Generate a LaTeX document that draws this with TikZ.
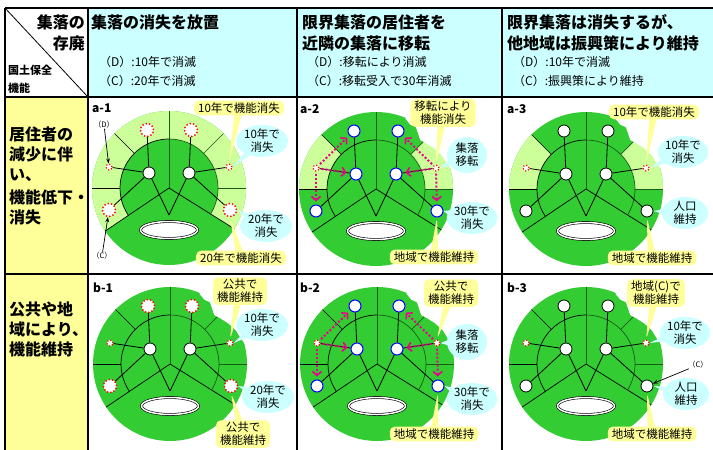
\documentclass[tikz,border=0pt]{standalone}
\usepackage{fontspec}
\setmainfont{Noto Sans CJK JP}
\usetikzlibrary{shapes.geometric,shapes.callouts,arrows.meta}

\definecolor{leaf}{HTML}{33CC33}
\definecolor{pale}{HTML}{CCFF99}
\definecolor{memoyellow}{HTML}{FFFF99}
\definecolor{sky}{HTML}{CCFFFF}

\tikzset{
  grid/.style={line width=1.2pt},
  seam/.style={line width=0.7pt},
  seamr/.style={line width=0.7pt, draw=black!55!leaf},
  hub/.style={circle, draw, line width=0.8pt, fill=white, minimum size=12pt, inner sep=0pt},
  lost/.style={circle, draw=red, dotted, line width=1.4pt, fill=white, minimum size=13pt, inner sep=0pt},
  lostsm/.style={lost, line width=1.2pt, minimum size=6pt},
  moved/.style={circle, draw=blue, line width=1pt, fill=white, minimum size=12pt, inner sep=0pt},
  link/.style={line width=0.8pt},
  relocate/.style={draw=magenta, line width=2pt, dotted, -{Straight Barb[length=4pt, width=9pt, line width=1.6pt]}, shorten >=3pt, shorten <=2pt},
  pointer/.style={line width=0.7pt, -{Stealth[length=5pt]}},
  memo/.style={rectangle callout, fill=memoyellow, rounded corners=5pt, inner xsep=4pt, inner ysep=2pt, align=center, font=\fontsize{11.5}{13}\selectfont},
  bubble/.style={ellipse callout, fill=sky, inner xsep=0pt, inner ysep=-5pt, minimum width=52pt, minimum height=32pt, align=center, font=\fontsize{11.5}{13}\selectfont},
  tag/.style={anchor=west, inner sep=0pt, font=\bfseries\fontsize{12}{14}\selectfont},
  head/.style={anchor=west, inner sep=0pt, font=\bfseries\fontsize{16}{18}\selectfont},
  sub/.style={anchor=west, inner sep=0pt, font=\fontsize{12}{14}\selectfont},
  rowhead/.style={anchor=north west, inner sep=0pt, align=left, font=\bfseries\fontsize{16}{20}\selectfont},
  small/.style={inner sep=0pt, font=\fontsize{7.5}{9}\selectfont},
}

% #1 prefix, #2 top sites, #3 side sites, #4 lower sites, #5 hubs
\newcommand{\village}[5]{%
  \draw[seam] (0,0) -- (214:77);
  \draw[seam] (0,0) -- (-32:77);
  \draw[seam] (214:49) arc[start angle=214, end angle=90, radius=49];
  \draw[seamr] (90:49) arc[start angle=90, end angle=-32, radius=49];
  \draw[seam] (135:49) -- (135:77);
  \draw[seam] (180:49) -- (180:77);
  \draw[seamr] (45:49) -- (45:77);
  \draw[seamr] (0:49) -- (0:77);
  \draw[seamr, line width=0.4pt] (0,0) -- (90:77);
  \node[ellipse, draw, double, double distance=1.5pt, line width=0.6pt, fill=white, minimum width=57pt, minimum height=17pt] (#1pond) at (0,-42) {};
  \coordinate (#1ap) at (0,-27);
  \node[#5] (#1hl) at (-20,15) {};
  \node[#5] (#1hr) at (20,15) {};
  \node[#2] (#1tl) at (-22,58) {};
  \node[#2] (#1tr) at (22,58) {};
  \node[#3] (#1dl) at (-60,21) {};
  \node[#3] (#1dr) at (60,21) {};
  \node[#4] (#1cl) at (-60,-22) {};
  \node[#4] (#1cr) at (61,-22) {};
  \draw[link] (#1hl) -- (#1tl);
  \draw[link] (#1hl) -- (#1dl);
  \draw[link] (#1hl) -- (#1cl);
  \draw[link] (#1hl) -- (#1ap);
  \draw[link] (#1hr) -- (#1tr);
  \draw[link] (#1hr) -- (#1dr);
  \draw[link] (#1hr) -- (#1cr);
  \draw[link] (#1hr) -- (#1ap);
}

% worn outer edge on the right
\newcommand{\tear}{%
  \fill[white] (68:79) -- (67:76) -- (62:73) -- (57:73.5) -- (48:66) -- (42:68) -- (35:71) -- (27:74) -- (21:75) -- (15:77.5) -- (15:80) -- (40:82) -- cycle;
}

\begin{document}
\begin{tikzpicture}[x=1pt, y=1pt]
\useasboundingbox (0,0) rectangle (713,-450);

% table
\fill[sky] (88,-8) rectangle (713,-97);
\fill[memoyellow] (5,-97) rectangle (88,-450);
\draw[grid] (5,-8) -- (713,-8);
\draw[grid] (5,-8) -- (5,-450);
\draw[grid] (5,-97) -- (713,-97);
\draw[grid] (5,-274) -- (713,-274);
\draw[grid] (88,-8) -- (88,-450);
\draw[grid] (297,-8) -- (297,-450);
\draw[grid] (502,-8) -- (502,-450);
\draw[line width=0.8pt] (5,-8) -- (88,-97);

\node[head, anchor=east] (corner1) at (85,-22) {集落の};
\node[head, anchor=east] (corner2) at (85,-43) {存廃};
\node[anchor=west, inner sep=0pt, font=\bfseries\fontsize{11}{13}\selectfont] (corner3) at (8,-70) {国土保全};
\node[anchor=west, inner sep=0pt, font=\bfseries\fontsize{11}{13}\selectfont] (corner4) at (8,-88) {機能};

\node[head] (h1) at (91,-22) {集落の消失を放置};
\node[sub] (h1d) at (99,-62) {（D）:10年で消滅};
\node[sub] (h1c) at (99,-81) {（C）:20年で消滅};
\node[head] (h2) at (302,-22) {限界集落の居住者を};
\node[head] (h2b) at (302,-43) {近隣の集落に移転};
\node[sub] (h2d) at (307,-62) {（D）:移転により消滅};
\node[sub] (h2c) at (307,-81) {（C）:移転受入で30年消滅};
\node[head] (h3) at (507,-22) {限界集落は消失するが、};
\node[head] (h3b) at (507,-43) {他地域は振興策により維持};
\node[sub] (h3d) at (513,-62) {（D）:10年で消滅};
\node[sub] (h3c) at (513,-81) {（C）:振興策により維持};

\node[rowhead] (rowa) at (9,-127) {居住者の\\減少に伴\\い、\\[3pt]機能低下・\\消失};
\node[rowhead] (rowb) at (9,-302) {公共や地\\域により、\\機能維持};

% a-1
\begin{scope}[shift={(169,-188)}]
  \fill[leaf] (0,0) circle[radius=77];
  \fill[pale] (214:77) arc[start angle=214, end angle=-32, radius=77] -- (-32:49) arc[start angle=-32, end angle=214, radius=49] -- cycle;
  \village{a1}{lost}{lostsm}{lost}{hub}
  \node[tag] (a1tag) at (-77,80) {a-1};
\end{scope}
\node[small] (a1dlab) at (104,-125) {（D）};
\node[small] (a1clab) at (102,-256) {（C）};
\draw[pointer] (a1dlab) -- (a1dl);
\draw[pointer] (a1clab) -- (a1cl);
\node[memo, callout absolute pointer={(a1dr.north)}] (a1m1) at (239,-108) {10年で機能消失};
\node[bubble, callout absolute pointer={(a1dr.east)}] (a1b1) at (262,-141) {10年で\\消失};
\node[bubble, callout absolute pointer={(a1cr.east)}] (a1b2) at (266,-226) {20年で\\消失};
\node[memo, callout absolute pointer={(a1cr.south)}] (a1m2) at (241,-258) {20年で機能消失};

% a-2
\begin{scope}[shift={(376,-189)}]
  \fill[leaf] (0,0) circle[radius=77];
  \fill[pale] (135:77) arc[start angle=135, end angle=180, radius=77] -- (180:49) arc[start angle=180, end angle=135, radius=49] -- cycle;
  \fill[pale] (45:77) arc[start angle=45, end angle=0, radius=77] -- (0:49) arc[start angle=0, end angle=45, radius=49] -- cycle;
  \village{a2}{moved}{lostsm}{moved}{moved}
  \tear
  \node[tag] (a2tag) at (-76,80) {a-2};
\end{scope}
\draw[relocate] (a2dl) -- (a2tl);
\draw[relocate] (a2dl) -- (a2hl);
\draw[relocate] (a2dl) -- (a2cl);
\draw[relocate] (a2dr) -- (a2tr);
\draw[relocate] (a2dr) -- (a2hr);
\draw[relocate] (a2dr) -- (a2cr);
\node[memo, callout absolute pointer={(a2dr.north)}] (a2m1) at (443,-113) {移転により\\機能消失};
\node[bubble, minimum width=40pt, minimum height=36pt, callout absolute pointer={(a2dr.east)}] (a2b1) at (467,-155) {集落\\移転};
\node[bubble, minimum width=48pt, callout absolute pointer={(a2cr.east)}] (a2b2) at (472,-218) {30年で\\消失};
\node[memo, callout absolute pointer={(a2cr.south)}] (a2m2) at (434,-257) {地域で機能維持};

% a-3
\begin{scope}[shift={(586,-189)}]
  \fill[leaf] (0,0) circle[radius=77];
  \fill[pale] (135:77) arc[start angle=135, end angle=180, radius=77] -- (180:49) arc[start angle=180, end angle=135, radius=49] -- cycle;
  \fill[pale] (45:77) arc[start angle=45, end angle=0, radius=77] -- (0:49) arc[start angle=0, end angle=45, radius=49] -- cycle;
  \village{a3}{hub}{lostsm}{hub}{hub}
  \tear
  \node[tag] (a3tag) at (-79,80) {a-3};
\end{scope}
\node[memo, callout absolute pointer={(a3dr.north)}] (a3m1) at (654,-112) {10年で機能消失};
\node[bubble, minimum width=48pt, callout absolute pointer={(a3dr.east)}] (a3b1) at (683,-152) {10年で\\消失};
\node[bubble, minimum width=46pt, callout absolute pointer={(a3cr.east)}] (a3b2) at (685,-213) {人口\\維持};
\node[memo, callout absolute pointer={(a3cr.south)}] (a3m2) at (652,-258) {地域で機能維持};

% b-1
\begin{scope}[shift={(170,-364)}]
  \fill[leaf] (0,0) circle[radius=77];
  \village{b1}{lost}{lostsm}{lost}{hub}
  \tear
  \node[tag] (b1tag) at (-77,76) {b-1};
\end{scope}
\node[memo, callout absolute pointer={(b1dr.north)}] (b1m1) at (240,-291) {公共で\\機能維持};
\node[bubble, callout absolute pointer={(b1dr.east)}] (b1b1) at (262,-325) {10年で\\消失};
\node[bubble, callout absolute pointer={(b1cr.east)}] (b1b2) at (268,-397) {20年で\\消失};
\node[memo, callout absolute pointer={(b1cr.south)}] (b1m2) at (243,-434) {公共で\\機能維持};

% b-2
\begin{scope}[shift={(377,-364)}]
  \fill[leaf] (0,0) circle[radius=77];
  \village{b2}{moved}{lostsm}{moved}{moved}
  \tear
  \node[tag] (b2tag) at (-77,76) {b-2};
\end{scope}
\draw[relocate] (b2dl) -- (b2tl);
\draw[relocate] (b2dl) -- (b2hl);
\draw[relocate] (b2dl) -- (b2cl);
\draw[relocate] (b2dr) -- (b2tr);
\draw[relocate] (b2dr) -- (b2hr);
\draw[relocate] (b2dr) -- (b2cr);
\node[memo, callout absolute pointer={(b2dr.north)}] (b2m1) at (451,-293) {公共で\\機能維持};
\node[bubble, minimum width=40pt, minimum height=36pt, callout absolute pointer={(b2dr.east)}] (b2b1) at (467,-342) {集落\\移転};
\node[bubble, minimum width=48pt, callout absolute pointer={(b2cr.east)}] (b2b2) at (472,-399) {30年で\\消失};
\node[memo, callout absolute pointer={(b2cr.south)}] (b2m2) at (434,-434) {地域で機能維持};

% b-3
\begin{scope}[shift={(586,-364)}]
  \fill[leaf] (0,0) circle[radius=77];
  \village{b3}{hub}{lostsm}{hub}{hub}
  \tear
  \node[tag] (b3tag) at (-79,76) {b-3};
\end{scope}
\node[small] (b3clab) at (698,-365) {（C）};
\draw[pointer] (b3clab) -- (b3cr);
\node[memo, callout absolute pointer={(b3dr.north)}] (b3m1) at (656,-293) {地域(C)で\\機能維持};
\node[bubble, minimum width=48pt, callout absolute pointer={(b3dr.east)}] (b3b1) at (685,-333) {10年で\\消失};
\node[bubble, minimum width=46pt, callout absolute pointer={(b3cr.east)}] (b3b2) at (686,-394) {人口\\維持};
\node[memo, callout absolute pointer={(b3cr.south)}] (b3m2) at (652,-434) {地域で機能維持};
\end{tikzpicture}
\end{document}
